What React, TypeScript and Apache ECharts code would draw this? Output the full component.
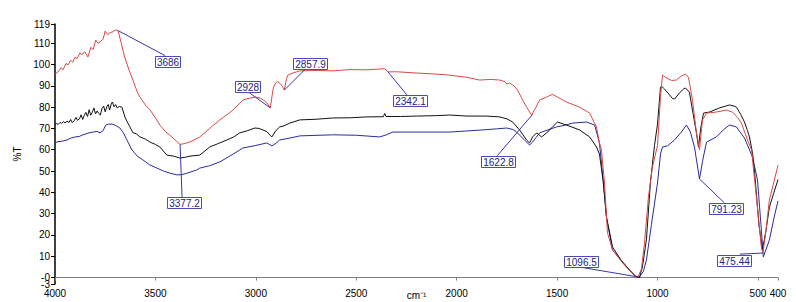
import React, { useEffect, useRef } from 'react';
import * as echarts from 'echarts';

const X_TICKS = [4000, 3500, 3000, 2500, 2000, 1500, 1000, 500, 400];
const Y_TICKS = [0, 10, 20, 30, 40, 50, 60, 70, 80, 90, 100, 110, 119];
const Y_MIN_TICK = [-3];

const RED: [number, number][] = [
  [4000, 95.5], [3985, 96.5], [3970, 98.5], [3960, 97.5], [3945, 100.5], [3935, 99.8], [3922, 102], [3912, 101],
  [3900, 103.5], [3890, 102.8], [3876, 105.4], [3866, 104.5], [3852, 106], [3836, 103.5], [3822, 108], [3810, 107],
  [3797, 111.5], [3786, 110], [3776, 110.5], [3760, 112], [3750, 115.7], [3738, 114], [3725, 115], [3712, 115.3],
  [3700, 116.2], [3686, 115.9], [3670, 110], [3655, 104], [3630, 97], [3612, 92.7], [3590, 87], [3577, 84.7],
  [3550, 81], [3527, 78.7], [3500, 75], [3478, 71.6], [3450, 68.5], [3418, 66], [3395, 64], [3377, 62.5],
  [3350, 63], [3320, 64], [3279, 66], [3230, 70], [3179, 74], [3114, 78.6], [3065, 83.3], [3030, 84.2],
  [3005, 84.7], [2980, 84.3], [2960, 83.2], [2945, 82], [2928, 79.6], [2918, 86], [2912, 89.4], [2900, 91.5],
  [2891, 92], [2878, 91], [2868, 89.8], [2858, 88], [2848, 93], [2841, 95], [2816, 96], [2781, 97],
  [2700, 97.2], [2617, 97], [2530, 97.6], [2448, 97.5], [2400, 97.8], [2358, 98], [2342, 96.5], [2300, 96.6],
  [2200, 96], [2100, 95.5], [2035, 95], [1950, 94], [1886, 92.7], [1830, 93], [1786, 92.7], [1760, 92],
  [1751, 90.8], [1736, 91.3], [1715, 90], [1697, 88], [1675, 84], [1652, 80], [1627, 76.3], [1605, 80],
  [1587, 83.3], [1552, 84.7], [1523, 86], [1498, 84.7], [1453, 82.4], [1388, 80], [1338, 77.2], [1304, 70.7],
  [1289, 63.2], [1279, 59.9], [1264, 44.4], [1249, 21], [1224, 13], [1174, 6.9], [1140, 3.5], [1114, 1.2],
  [1097, 0.3], [1080, 4], [1065, 16], [1045, 38], [1025, 52], [1000, 62], [985, 85], [975, 95],
  [960, 94], [945, 93.2], [930, 92.5], [906, 92.7], [881, 94.6], [861, 95.5], [846, 94], [836, 89],
  [826, 83.3], [806, 67.9], [791, 60], [776, 74], [756, 77.2], [707, 77.7], [657, 78.6], [627, 77.7],
  [600, 75], [582, 72.5], [552, 64.6], [532, 60], [510, 40], [483, 14.4], [475, 11.5], [460, 22],
  [443, 36.4], [418, 45.8], [400, 52.8],
];

const BLACK: [number, number][] = [
  [4000, 71.6], [3992, 72.3], [3984, 71.9], [3975, 72.8], [3968, 72.4], [3958, 73.2], [3950, 72.6], [3940, 73.4],
  [3930, 72.8], [3922, 74.2], [3914, 72.7], [3905, 73.6], [3895, 75.2], [3888, 73.8], [3878, 74.5], [3870, 76.4],
  [3862, 74.2], [3855, 76], [3846, 77.5], [3838, 75.6], [3830, 78.8], [3822, 76.2], [3815, 77.4], [3806, 79.6],
  [3798, 76.8], [3790, 78.2], [3782, 77], [3774, 76.3], [3766, 79.4], [3758, 80.5], [3750, 77.8], [3742, 80.2],
  [3735, 81.2], [3728, 78.6], [3720, 81.5], [3714, 82.4], [3706, 80.2], [3698, 81.2], [3690, 79.6], [3680, 80.3],
  [3667, 80], [3652, 75.4], [3640, 73], [3627, 70.7], [3612, 68], [3595, 67.5], [3577, 66], [3550, 65],
  [3527, 63.6], [3500, 62.5], [3478, 61.3], [3443, 57.5], [3410, 57], [3378, 56.1], [3350, 56.5], [3328, 57],
  [3279, 57.5], [3229, 61.3], [3190, 62.8], [3144, 64.6], [3110, 66], [3080, 67.9], [3040, 69], [3005, 70.2],
  [2985, 70], [2965, 69.3], [2945, 68.5], [2930, 66.9], [2920, 66], [2905, 68.3], [2895, 69.5], [2881, 70.7],
  [2860, 71.2], [2831, 72.5], [2781, 74], [2700, 74.3], [2617, 74.9], [2530, 75], [2448, 75.4], [2365, 75.5],
  [2358, 77], [2352, 75.6], [2280, 75.6], [2199, 75.8], [2100, 76], [2035, 76.3], [1950, 75.8], [1850, 75.8],
  [1786, 75.4], [1750, 74.5], [1721, 73], [1687, 69.3], [1652, 64.6], [1637, 63.2], [1622, 66], [1602, 67.9],
  [1577, 66], [1547, 68.3], [1520, 71], [1498, 73], [1453, 71.6], [1388, 69.3], [1338, 66], [1304, 61.3],
  [1289, 58], [1270, 45], [1254, 28.4], [1224, 14.4], [1180, 8], [1139, 3.6], [1105, 0.3], [1090, 0],
  [1075, 5], [1055, 18], [1035, 45], [1015, 62], [1000, 72], [985, 89.4], [975, 89.4], [965, 88.5],
  [940, 85.7], [925, 84], [915, 83.8], [891, 86.6], [870, 88.5], [861, 89], [841, 87], [826, 78.6],
  [806, 67.9], [796, 61.3], [785, 70], [771, 77.2], [741, 77.7], [692, 79.6], [660, 80.5], [642, 81],
  [620, 80.5], [607, 80], [585, 76.5], [567, 73], [552, 69], [542, 66], [527, 58.5], [517, 50],
  [495, 25], [478, 13], [460, 22], [443, 33], [420, 40], [400, 46],
];

const BLUE: [number, number][] = [
  [4000, 63.2], [3985, 63.8], [3965, 64], [3940, 64.6], [3920, 65.5], [3900, 66], [3880, 66.2], [3861, 67],
  [3835, 67.8], [3811, 68.3], [3790, 68.6], [3776, 67.9], [3760, 69], [3748, 71.5], [3735, 72], [3715, 72],
  [3700, 71.5], [3677, 70.2], [3660, 68], [3642, 64.6], [3617, 59.9], [3590, 57], [3562, 55.2], [3530, 53],
  [3493, 51.4], [3460, 50], [3428, 49], [3393, 48.2], [3370, 48.3], [3343, 49], [3294, 50.5], [3279, 51.4],
  [3230, 52.5], [3179, 54.3], [3130, 57], [3080, 59.9], [3065, 60.8], [3000, 62], [2945, 63.2], [2920, 61.8],
  [2900, 63], [2881, 64.6], [2830, 65.5], [2781, 66.5], [2617, 67], [2500, 66.8], [2383, 66], [2350, 67],
  [2318, 68.3], [2199, 68.3], [2035, 68.3], [1950, 68.8], [1871, 69.3], [1800, 69.8], [1751, 70.2], [1720, 69.5],
  [1702, 68.3], [1662, 64.6], [1637, 62.2], [1622, 63.6], [1587, 67.9], [1540, 69.5], [1503, 70.7], [1460, 71.5],
  [1423, 72.5], [1353, 73], [1313, 71.6], [1289, 63.2], [1270, 45], [1254, 28], [1224, 13], [1154, 5],
  [1114, 0.8], [1090, 0.3], [1070, 3], [1055, 8.3], [1030, 25], [1000, 44.4], [985, 58], [975, 61.3],
  [950, 61.8], [915, 64.6], [881, 68.3], [856, 71.6], [836, 68.3], [816, 61.3], [791, 46.3], [775, 55],
  [756, 63.6], [707, 66], [670, 69.5], [642, 71.6], [607, 70.7], [567, 65.5], [527, 56.6], [502, 45.8],
  [485, 25], [473, 9.7], [443, 17.6], [420, 28], [400, 36],
];

const PEAK_LABELS = ['3686', '2928', '2857.9', '2342.1', '1622.8', '3377.2', '1096.5', '791.23', '475.44'];
const PEAK_WN = [3686, 2928, 2857.9, 2342.1, 1622.8, 3377.2, 1096.5, 791.23, 475.44];
const PEAK_T = [115.9, 79.6, 88, 96.5, 76.5, 62.5, 0.3, 46.3, 11.5];

// layout: box left/top offset and leader end offset, relative to the anchor pixel
const BOX_OFFSET: [number, number][] = [
  [37, 25], [-35, -27], [9, -32], [5, 23], [-51, 41], [-13, 53], [-74, -21], [10, 24], [-46, 2],
];
const LEADER_END: [number, number][] = [
  [47, 25], [-22, -16], [22, -22], [19, 23], [-35, 41], [2, 53], [-59, -10], [25, 24], [-23, 1],
];

const FONT = '"Liberation Sans", Arial, sans-serif';

function textWidth(s: string) {
  let w = 0;
  for (const c of s) w += c === '.' ? 2.78 : 5.56;
  return w;
}

export default function App() {
  const ref = useRef<HTMLDivElement>(null);
  useEffect(() => {
    document.body.style.margin = '0';
    const chart = echarts.init(ref.current!, null, { renderer: 'svg' });
    const yLabel = {
      color: '#000',
      fontSize: 10,
      fontFamily: FONT,
      margin: 5,
      hideOverlap: false,
    };
    chart.setOption({
      animation: false,
      backgroundColor: '#ffffff',
      grid: { left: 55, right: 18, top: 24, bottom: 18, containLabel: false, outerBoundsMode: 'none' },
      xAxis: {
        type: 'value',
        inverse: true,
        min: 400,
        max: 4000,
        name: 'cm⁻¹',
        nameLocation: 'middle',
        nameGap: 6,
        nameMoveOverlap: false,
        nameTextStyle: { color: '#000', fontSize: 10, fontFamily: FONT, verticalAlign: 'top' },
        axisLine: { show: true, lineStyle: { color: '#808080', width: 1 } },
        axisTick: { show: true, length: 3, customValues: X_TICKS, lineStyle: { color: '#808080' } },
        axisLabel: {
          customValues: X_TICKS,
          color: '#000',
          fontSize: 10,
          fontFamily: FONT,
          margin: 4,
          showMinLabel: true,
          showMaxLabel: true,
          formatter: (v: number) => String(v),
        },
        splitLine: { show: false },
      },
      yAxis: [
        {
          type: 'value',
          position: 'left',
          min: -3,
          max: 119,
          name: '%T',
          nameLocation: 'middle',
          nameRotate: 90,
          nameGap: 31,
          nameTextStyle: { color: '#000', fontSize: 10, fontFamily: FONT },
          axisLine: { show: true, lineStyle: { color: '#000', width: 1.5 } },
          axisTick: { show: true, length: 4, customValues: Y_TICKS, lineStyle: { color: '#000' } },
          axisLabel: {
            ...yLabel,
            customValues: Y_TICKS,
            formatter: (v: number) => (v === 0 ? '-0' : String(v)),
          },
          splitLine: { show: false },
        },
        {
          type: 'value',
          position: 'left',
          offset: 0,
          min: -3,
          max: 119,
          axisLine: { show: false },
          axisTick: { show: true, length: 4, customValues: Y_MIN_TICK, lineStyle: { color: '#000' } },
          axisLabel: { ...yLabel, customValues: Y_MIN_TICK, formatter: (v: number) => String(v) },
          splitLine: { show: false },
        },
      ],
      series: [
        { type: 'line', data: BLUE, showSymbol: false, lineStyle: { color: '#2a2a9c', width: 1 }, z: 2 },
        { type: 'line', data: BLACK, showSymbol: false, lineStyle: { color: '#111111', width: 1 }, z: 3 },
        { type: 'line', data: RED, showSymbol: false, lineStyle: { color: '#d84848', width: 1 }, z: 4 },
      ],
    });

    const graphics: any[] = [];
    PEAK_LABELS.forEach((label, i) => {
      const p = chart.convertToPixel({ gridIndex: 0 }, [PEAK_WN[i], PEAK_T[i]]) as number[];
      const [ax, ay] = p;
      const w = textWidth(label) + 3;
      const h = 11;
      const bx = ax + BOX_OFFSET[i][0];
      const by = ay + BOX_OFFSET[i][1];
      graphics.push({
        type: 'line',
        z: 50,
        silent: true,
        shape: { x1: ax, y1: ay, x2: ax + LEADER_END[i][0], y2: ay + LEADER_END[i][1] },
        style: { stroke: '#3636a8', lineWidth: 1 },
      });
      graphics.push({
        type: 'rect',
        z: 60,
        silent: true,
        shape: { x: Math.round(bx) + 0.5, y: Math.round(by) + 0.5, width: Math.round(w), height: h },
        style: { fill: '#ffffff', stroke: '#4a4ab8', lineWidth: 1 },
      });
      graphics.push({
        type: 'text',
        z: 70,
        silent: true,
        x: Math.round(bx) + 0.5 + Math.round(w) / 2,
        y: Math.round(by) + 0.5 + h / 2 + 0.5,
        style: {
          text: label,
          fill: '#22228e',
          fontSize: 10,
          fontFamily: FONT,
          align: 'center',
          verticalAlign: 'middle',
        },
      });
    });
    chart.setOption({ graphic: graphics });

    return () => chart.dispose();
  }, []);
  return <div ref={ref} style={{ width: 796, height: 302 }} />;
}
